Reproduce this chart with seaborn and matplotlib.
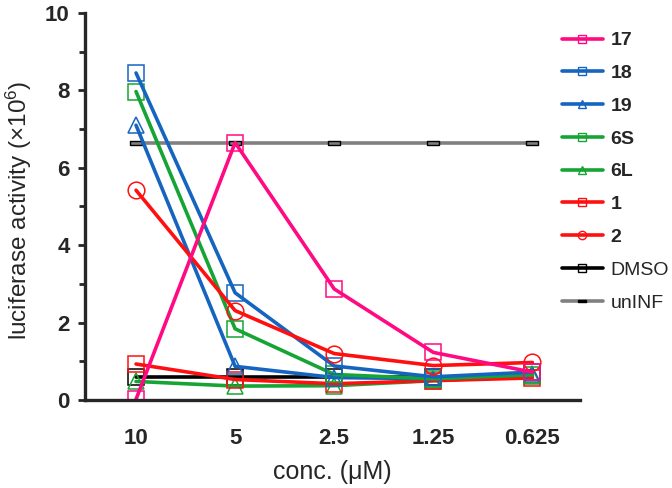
import matplotlib
matplotlib.use("Agg")
import matplotlib.pyplot as plt
import numpy as np
import pandas as pd
import seaborn as sns

# Concentrations (x categories)
conc = ["10", "5", "2.5", "1.25", "0.625"]

# Luciferase activity (x10^6) per compound
s17 = [0.02, 6.65, 2.87, 1.23, 0.72]
s18 = [8.45, 2.77, 0.88, 0.60, 0.72]
s19 = [7.10, 0.87, 0.58, 0.55, 0.66]
s6S = [7.97, 1.84, 0.66, 0.55, 0.65]
s6L = [0.48, 0.36, 0.37, 0.50, 0.62]
s1 = [0.93, 0.53, 0.42, 0.50, 0.57]
s2 = [5.42, 2.31, 1.20, 0.89, 0.97]
dmso = [0.59, 0.59, 0.59, 0.59]
uninf = [6.63, 6.63, 6.63, 6.63, 6.63]

names = ["17", "18", "19", "6S", "6L", "1", "2", "DMSO", "unINF"]
values = [s17, s18, s19, s6S, s6L, s1, s2, dmso, uninf]
colors = ["#FF0A82", "#1565C0", "#1565C0", "#16A534", "#16A534",
          "#FF1010", "#FF1010", "#000000", "#808080"]
markers = ["s", "s", "^", "s", "^", "s", "o", "s", "dash"]

# small flat rectangle used as the unINF marker
dash = [(-1, -0.32), (1, -0.32), (1, 0.32), (-1, 0.32), (-1, -0.32)]


def build_frame():
    rows = []
    for name, vals in zip(names, values):
        for i, v in enumerate(vals):
            rows.append({"compound": name, "conc": i, "value": v})
    return pd.DataFrame(rows)


df = build_frame()

sns.set_style("ticks")
plt.rcParams["font.family"] = ["Liberation Sans", "DejaVu Sans"]
plt.rcParams["mathtext.default"] = "regular"

fig = plt.figure(figsize=(6.72, 4.88), dpi=100)
ax = fig.add_axes([0.1265, 0.1803, 0.7365, 0.7931])

lw = 2.6

# draw order (back to front)
order = ["unINF", "DMSO", "6L", "1", "19", "6S", "18", "2", "17"]
for name in order:
    i = names.index(name)
    sub = df[df["compound"] == name]
    m = markers[i]
    if m == "dash":
        kw = dict(marker=dash, markersize=9, markerfacecolor="#808080",
                  markeredgecolor="black", markeredgewidth=1.0)
    else:
        kw = dict(marker=m, markersize=11 if m != "o" else 12,
                  markerfacecolor="none", markeredgecolor=colors[i],
                  markeredgewidth=1.1)
    sns.lineplot(data=sub, x="conc", y="value", ax=ax, color=colors[i],
                 linewidth=lw, legend=False, **kw)

# legend in original order
leg_handles = []
for i, name in enumerate(names):
    m = markers[i]
    h = plt.Line2D([], [], color=colors[i], linewidth=lw,
                   marker=dash if m == "dash" else m,
                   markersize=6,
                   markerfacecolor="black" if m == "dash" else "none",
                   markeredgecolor="black" if m == "dash" else colors[i],
                   markeredgewidth=1.0)
    leg_handles.append(h)
leg = fig.legend(leg_handles, names, loc="upper left",
                 bbox_to_anchor=(0.836, 0.935), frameon=False,
                 borderpad=0, borderaxespad=0,
                 prop={"size": 14}, handlelength=2.1, handletextpad=0.4,
                 labelspacing=0.78)
for t in leg.get_texts():
    if t.get_text() not in ("DMSO", "unINF"):
        t.set_fontweight("bold")

ax.set_xlim(-0.515, 4.48)
ax.set_ylim(0, 10)
ax.set_xticks(range(len(conc)))
ax.set_xticklabels(conc, fontsize=16, fontweight="bold")
ax.set_yticks([0, 2, 4, 6, 8, 10])
ax.set_yticklabels(["0", "2", "4", "6", "8", "10"], fontsize=16,
                   fontweight="bold")
ax.set_yticks([1, 3, 5, 7, 9], minor=True)
ax.tick_params(axis="x", length=0, pad=20)
ax.tick_params(axis="y", which="major", length=5, width=2, pad=6)
ax.tick_params(axis="y", which="minor", length=4, width=2)

for side in ["top", "right"]:
    ax.spines[side].set_visible(False)
for side in ["left", "bottom"]:
    ax.spines[side].set_linewidth(2.4)

ax.set_xlabel("conc. (μM)", fontsize=18, labelpad=8)
ax.set_ylabel("luciferase activity (×10$^{6}$)", fontsize=17.5)
ax.yaxis.set_label_coords(-0.103, 0.49)

fig.savefig("out.png", dpi=100)
